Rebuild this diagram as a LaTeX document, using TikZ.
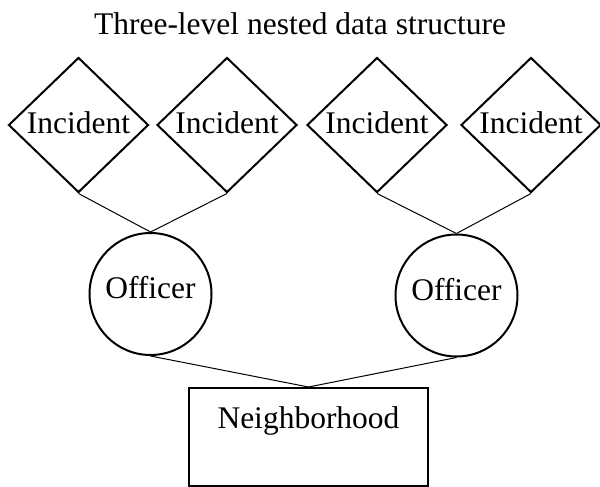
\documentclass[tikz,border=0pt]{standalone}
\usepackage{fontspec}
\setmainfont{Liberation Serif}
\usetikzlibrary{shapes.geometric}

\begin{document}
\begin{tikzpicture}[x=1pt, y=-1pt, font=\fontsize{31.5}{36}\selectfont]

    % --- Parameters ---
    \def\yInc{125}           % Incident row
    \def\yOff{294}           % Officer row
    \def\yHood{437}          % Neighborhood row

    \useasboundingbox (0,0) rectangle (600,487);

    % --- Styles ---
    \tikzstyle{incident} = [draw, diamond, line width=2pt, minimum width=140pt, minimum height=135pt, inner sep=0pt, text depth=5pt]
    \tikzstyle{officer} = [draw, circle, line width=2pt, minimum size=122pt, inner sep=0pt, text depth=13pt]
    \tikzstyle{hood} = [draw, rectangle, line width=2pt, minimum width=239pt, inner sep=0pt, text height=40pt, text depth=58pt]
    \tikzstyle{link} = [line width=1pt]

    % --- Title ---
    \node[anchor=base] (title) at (300,35) {Three-level nested data structure};

    % --- Incidents ---
    \node[incident] (inc1) at (78.5,\yInc) {Incident};
    \node[incident] (inc2) at (227,\yInc) {Incident};
    \node[incident] (inc3) at (377,\yInc) {Incident};
    \node[incident] (inc4) at (531,\yInc) {Incident};

    % --- Officers ---
    \node[officer] (off1) at (150.5,\yOff) {Officer};
    \node[officer] (off2) at (456.5,\yOff+1.5) {Officer};

    % --- Neighborhood ---
    \node[hood] (hood) at (308.5,\yHood) {Neighborhood};

    % --- Links ---
    \draw[link] (inc1.south) -- (off1.north);
    \draw[link] (inc2.south) -- (off1.north);
    \draw[link] (inc3.south) -- (off2.north);
    \draw[link] (inc4.south) -- (off2.north);
    \draw[link] (off1.south) -- (hood.north);
    \draw[link] (off2.south) -- (hood.north);

\end{tikzpicture}
\end{document}
